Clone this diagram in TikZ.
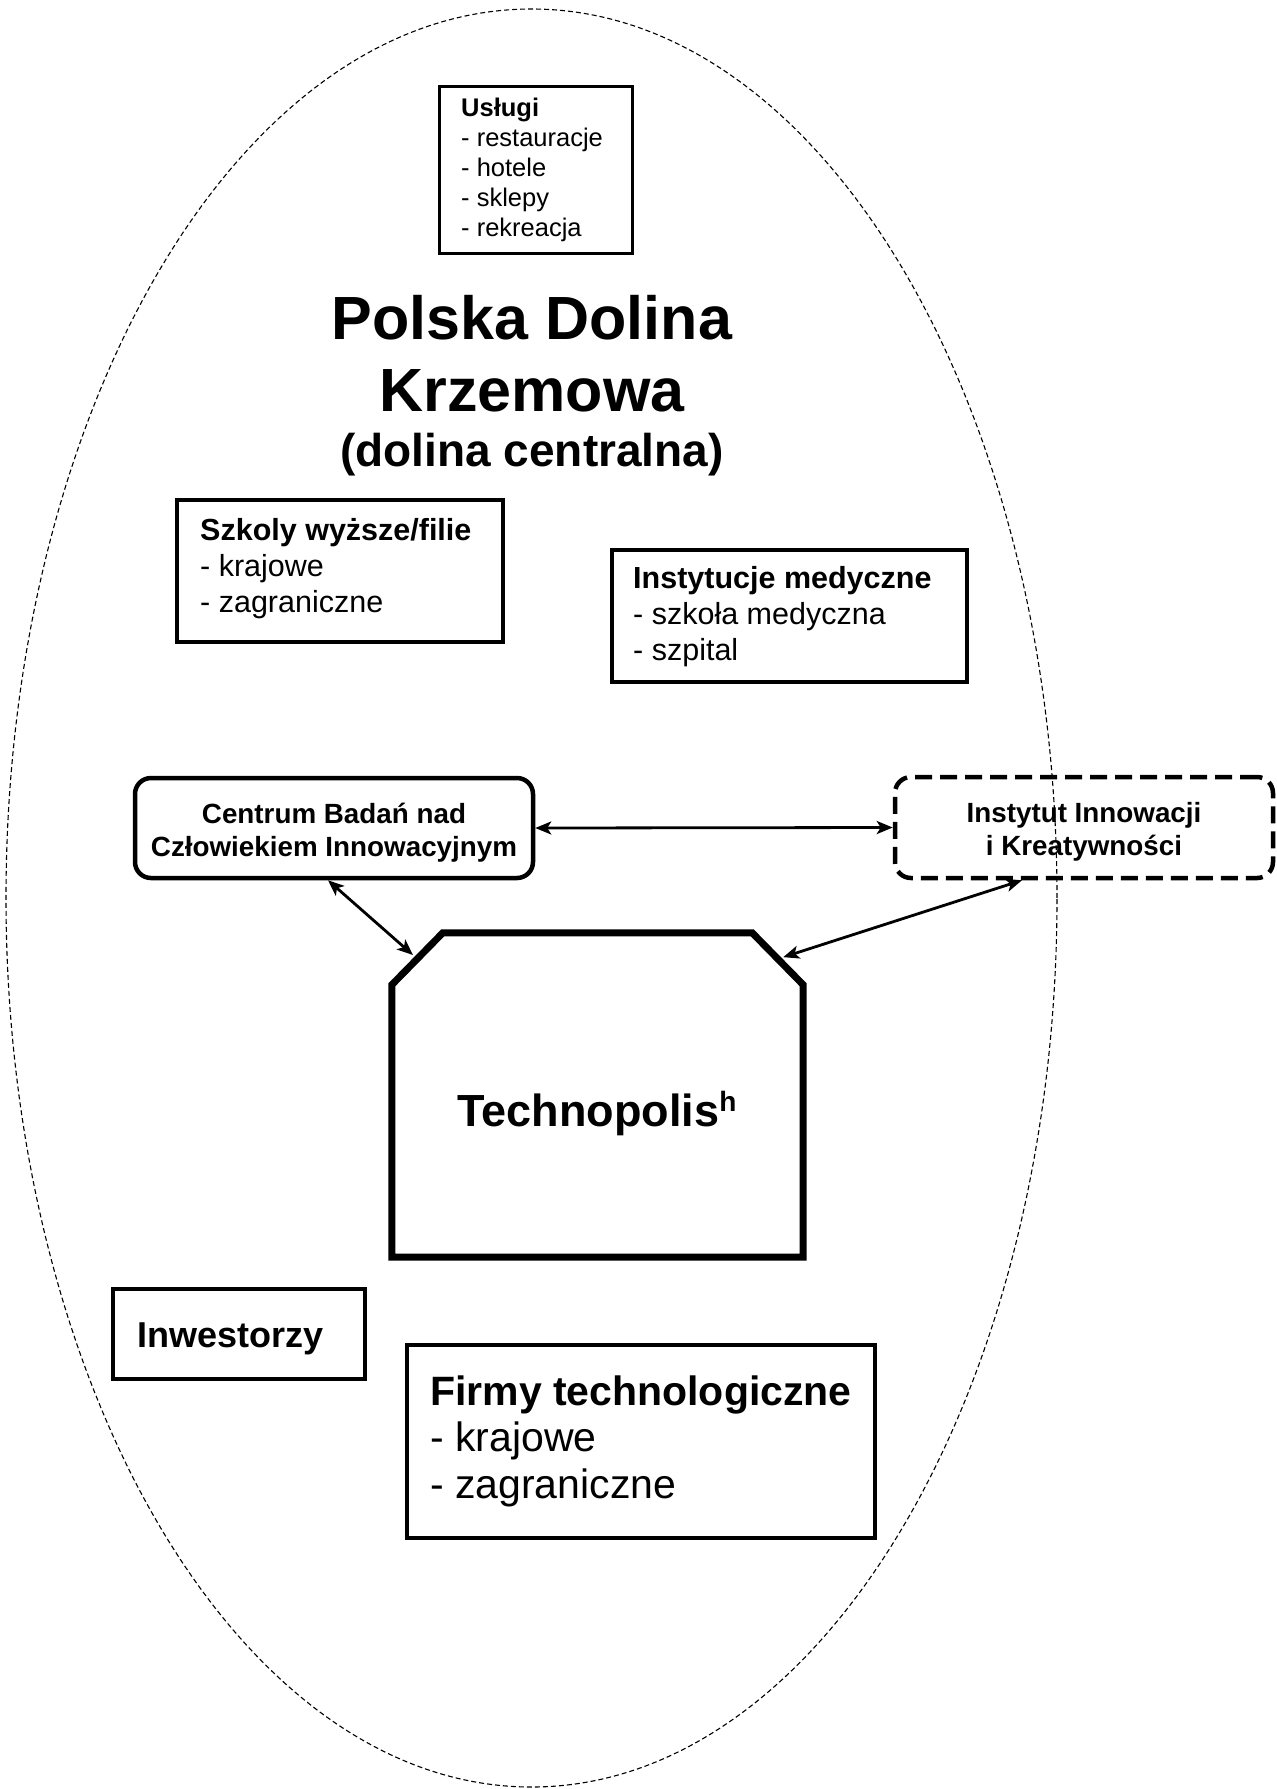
\documentclass[tikz,border=0pt]{standalone}
\usepackage{fontspec}
\setmainfont{Liberation Sans}
\usetikzlibrary{arrows.meta}
\tikzset{
  box/.style={draw, line width=4pt, inner sep=0pt, rectangle},
  rbox/.style={draw, line width=4.5pt, inner sep=0pt, rectangle, rounded corners=16pt},
  dbox/.style={rbox, dash pattern=on 17pt off 8pt},
  txt/.style={inner sep=0pt, anchor=base west, align=left},
  ctxt/.style={inner sep=0pt, anchor=base},
  link/.style={line width=2.8pt, {Stealth[length=16pt,width=13pt,inset=4pt]}-{Stealth[length=16pt,width=13pt,inset=4pt]}},
  valley/.style={line width=1.1pt, dash pattern=on 5pt off 3pt}
}
\begin{document}
\begin{tikzpicture}[x=1pt,y=-1pt]
\useasboundingbox (0,0) rectangle (1277,1789);
\fill[white] (0,0) rectangle (1277,1789);

% valley ellipse
\draw[valley] (531.5,898) ellipse [x radius=525.5pt, y radius=889pt];

% boxes
\node[box, line width=3pt, minimum width=193pt, minimum height=167pt] (uslugi) at (535.5,169.5) {};
\node[txt] (uslugiT) at (461,116.7) {\fontsize{25.5}{30}\selectfont\begin{tabular}[t]{@{}l@{}}\textbf{Usługi}\\- restauracje\\- hotele\\- sklepy\\- rekreacja\end{tabular}};

\node[ctxt] (title) at (532,339) {\fontsize{61}{72}\selectfont\bfseries\begin{tabular}[t]{@{}c@{}}Polska Dolina\\Krzemowa\end{tabular}};
\node[ctxt] (subtitle) at (532,466) {\fontsize{46}{54}\selectfont\bfseries (dolina centralna)};

\node[box, minimum width=326pt, minimum height=142pt] (szkoly) at (340,571) {};
\node[txt] (szkolyT) at (200,540) {\fontsize{30.5}{36}\selectfont\begin{tabular}[t]{@{}l@{}}\textbf{Szkoly wyższe/filie}\\- krajowe\\- zagraniczne\end{tabular}};

\node[box, minimum width=355pt, minimum height=132pt] (medyczne) at (789.5,616) {};
\node[txt] (medyczneT) at (633,588) {\fontsize{30.5}{36}\selectfont\begin{tabular}[t]{@{}l@{}}\textbf{Instytucje medyczne}\\- szkoła medyczna\\- szpital\end{tabular}};

\node[rbox, minimum width=398pt, minimum height=100pt] (centrum) at (334,828) {};
\node[ctxt] (centrumT) at (334,823) {\fontsize{27.8}{33.5}\selectfont\bfseries\begin{tabular}[t]{@{}c@{}}Centrum Badań nad\\Człowiekiem Innowacyjnym\end{tabular}};

\node[dbox, minimum width=378pt, minimum height=101pt] (instytut) at (1084,827.5) {};
\node[ctxt] (instytutT) at (1084,822) {\fontsize{27.8}{33.5}\selectfont\bfseries\begin{tabular}[t]{@{}c@{}}Instytut Innowacji\\i Kreatywności\end{tabular}};

% Technopolis
\node[inner sep=0pt, minimum width=411pt, minimum height=324pt] (techno) at (597.5,1095) {};
\draw[line width=7pt, line join=miter] (techno.south west) -- ([yshift=-52pt]techno.north west) -- ([xshift=51pt]techno.north west) -- ([xshift=-51pt]techno.north east) -- ([yshift=-52pt]techno.north east) -- (techno.south east) -- cycle;
\node[ctxt] (technoT) at (597,1126) {\fontsize{45}{54}\selectfont\bfseries Technopolis\raisebox{15pt}{\fontsize{28}{30}\selectfont h}};
\coordinate (tnw) at (417.5,959);
\coordinate (tne) at (777.5,959);

\node[box, minimum width=252pt, minimum height=90pt] (inwest) at (239,1334) {};
\node[txt] (inwestT) at (137,1347) {\fontsize{36}{42}\selectfont\bfseries Inwestorzy};

\node[box, minimum width=468pt, minimum height=193pt] (firmy) at (641,1441.5) {};
\node[txt] (firmyT) at (430,1405) {\fontsize{41}{46.5}\selectfont\begin{tabular}[t]{@{}l@{}}\textbf{Firmy technologiczne}\\- krajowe\\- zagraniczne\end{tabular}};

% connectors
\draw[link] (centrum.east) -- (instytut.west);
\draw[link, shorten >=6pt] ([xshift=-6pt]centrum.south) -- (tnw);
\draw[link, shorten >=6pt] ([xshift=-62pt]instytut.south) -- (tne);
\end{tikzpicture}
\end{document}
